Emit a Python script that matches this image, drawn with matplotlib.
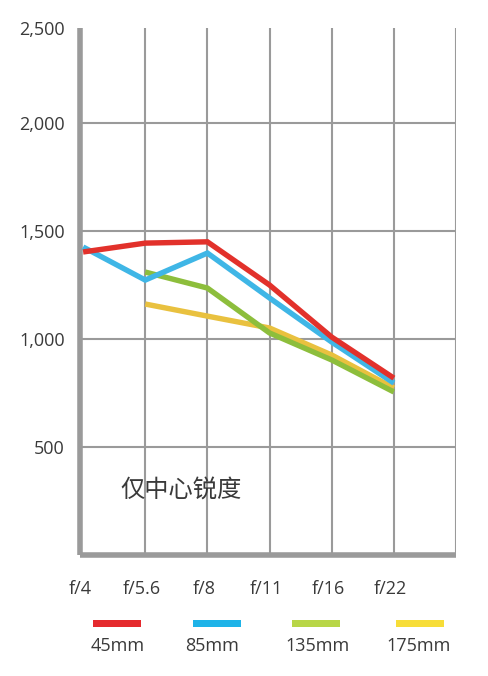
import numpy as np
import matplotlib.pyplot as plt
from matplotlib.patches import Rectangle

plt.rcParams['font.family'] = ['Open Sans', 'Noto Sans CJK SC', 'DejaVu Sans']

apertures = ["f/4", "f/5.6", "f/8", "f/11", "f/16", "f/22"]
lenses = ["45mm", "85mm", "135mm", "175mm"]

# sharpness per aperture (None = not measured)
s45 = [1403, 1444, 1450, 1250, 1009, 819]
s85 = [1426, 1273, 1398, 1190, 986, 796]
s135 = [None, 1310, 1236, 1028, 903, 755]
s175 = [None, 1162, 1106, 1051, 926, 773]

yticks = [500, 1000, 1500, 2000]
ylabels = ["500", "1,000", "1,500", "2,000"]

line_colors = ["#e2312b", "#3fb6e6", "#8dbe3c", "#e9c13f"]
legend_colors = ["#e52a2e", "#1eb3e8", "#b8d647", "#f7dd38"]
grid_c = "#9a9a9a"
text_c = "#3a3a3a"


def to_arr(vals):
    return np.array([np.nan if v is None else v for v in vals], dtype=float)


fig = plt.figure(figsize=(4.89, 6.76), dpi=100)
ax = fig.add_axes([80 / 489, 121 / 676, 376 / 489, 527 / 676])

x = np.arange(len(apertures))
ax.set_xlim(0, 6)
ax.set_ylim(0, 2440)

# grid
for yv in yticks:
    ax.axhline(yv, color=grid_c, lw=1.5, zorder=1)
for xv in range(1, 7):
    ax.axvline(xv, color=grid_c, lw=1.5, zorder=1)

for s in ["top", "right"]:
    ax.spines[s].set_visible(False)
for s in ["left", "bottom"]:
    ax.spines[s].set_color(grid_c)
    ax.spines[s].set_linewidth(4)
    ax.spines[s].set_capstyle("butt")

series = [s45, s85, s135, s175]
for vals, col in reversed(list(zip(series, line_colors))):
    ax.plot(x, to_arr(vals), color=col, lw=3.9, solid_capstyle="butt",
            solid_joinstyle="miter", zorder=3)

ax.set_yticks(yticks + [2440])
ax.set_yticklabels(ylabels + ["2,500"], fontsize=13, color=text_c)
ax.set_xticks(x - 0.05)
ax.set_xticklabels(apertures, fontsize=13, color=text_c)
ax.tick_params(axis="y", length=0, pad=11)
ax.tick_params(axis="x", length=0, pad=18)

ax.text(0.6, 300, "仅中心锐度", fontsize=17.5, color=text_c,
        family=['Noto Sans CJK SC', 'DejaVu Sans'], va="center")

# legend underneath
lax = fig.add_axes([0, 0, 1, 80 / 676])
lax.set_xlim(0, 489)
lax.set_ylim(0, 80)
lax.axis("off")
patch_x = [93, 193, 292, 396]
label_x = [118, 212, 318, 419]
for px, lx, col, name in zip(patch_x, label_x, legend_colors, lenses):
    lax.add_patch(Rectangle((px, 49), 48, 7, color=col, lw=0))
    lax.text(lx, 30, name, ha="center", va="center", fontsize=13,
             color=text_c)

fig.savefig("out.png", dpi=100)
